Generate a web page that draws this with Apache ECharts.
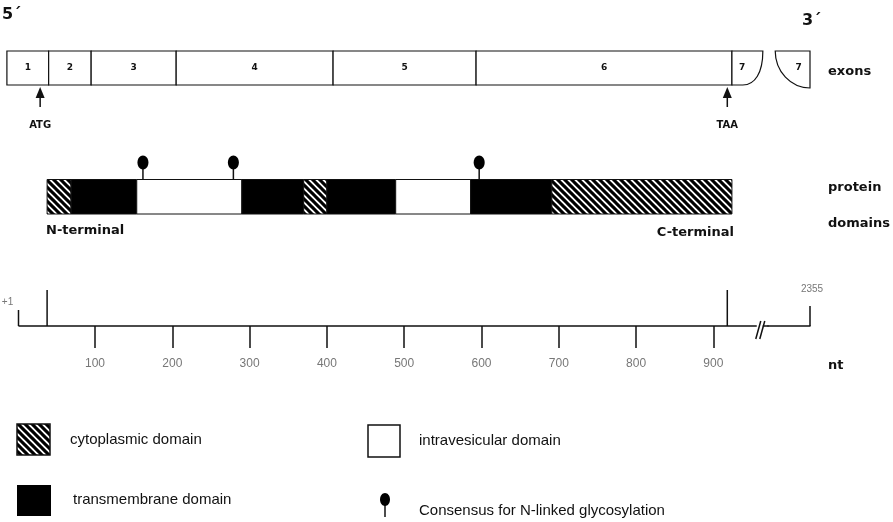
<!DOCTYPE html>
<html><head><meta charset="utf-8">
<script src="https://cdn.jsdelivr.net/npm/echarts@6/dist/echarts.min.js"></script>
<style>html,body{margin:0;padding:0;background:#fff}#c{width:893px;height:522px}</style>
</head><body><div id="c"></div>
<script>
// ---------- data (nucleotide positions) ----------
const exonNames  = ['1', '2', '3', '4', '5', '6', '7'];
const exonStarts = [-14, 40, 95, 205, 408, 593, 924];
const exonEnds   = [40, 95, 205, 408, 593, 924, 964];
const exon7Tail  = [2310, 2355];

const domainTypes  = ['cyto', 'tm', 'intra', 'tm', 'cyto', 'tm', 'intra', 'tm', 'cyto'];
const domainStarts = [38, 69, 154, 290, 370, 400, 489, 586, 691];
const domainEnds   = [69, 154, 290, 370, 400, 489, 586, 691, 924];

const glycoSites = [162, 279, 597];

const codonNames  = ['ATG', 'TAA'];
const codonArrows = [29, 918];

const rulerTicks      = [100, 200, 300, 400, 500, 600, 700, 800, 900];
const rulerTickLabels = ['100', '200', '300', '400', '500', '600', '700', '800', '900'];
const seqStart = 1, seqEnd = 2355;
const cdsStart = 38, cdsEnd = 918;
const rulerMarks = [seqStart, cdsStart, cdsEnd, seqEnd];
const rulerMarkLabels = ['+1', '', '', '2355'];
const breakMark = 960;
const axisBreakRange = [970, 2300];

// ---------- layout / style ----------
const L = {
  exonTop: 51, exonBot: 85, exonLabelY: 68,
  arrowTip: 87, arrowHead: 98, arrowBase: 107, codonLabelY: 125,
  barTop: 179.5, barBot: 214, pinCy: 162.5, pinRx: 5.5, pinRy: 7,
  rulerY: 326, rulerMarkTops: [310, 290, 290, 306]
};
const INK = '#111';
const boldFont = 'bold 13px "DejaVu Sans"';
const legendFont = '15px "Liberation Sans"';

function hatchCanvas() {
  const s = 7, c = document.createElement('canvas');
  c.width = s; c.height = s;
  const g = c.getContext('2d');
  g.fillStyle = '#fff'; g.fillRect(0, 0, s, s);
  g.strokeStyle = '#000'; g.lineWidth = 3.1;
  for (const k of [-s, 0, s]) {
    g.beginPath(); g.moveTo(k - 1, -1); g.lineTo(k + s + 1, s + 1); g.stroke();
  }
  return c;
}
const HATCH = { image: hatchCanvas(), repeat: 'repeat' };
function domainFill(t) { return t === 'cyto' ? HATCH : (t === 'tm' ? '#000' : '#fff'); }

function px(api, v) { return api.coord([v, 0])[0]; }
function txt(text, x, y, font, fill, align, valign) {
  return { type: 'text', style: { text, x, y, font, fill: fill || INK,
    align: align || 'center', verticalAlign: valign || 'middle',
    textAlign: align || 'center', textVerticalAlign: valign || 'middle' } };
}
function label(text, x, y, font, align) {
  return { type: 'text', style: { text, x, y, font, fill: INK,
    align: align || 'left', textAlign: align || 'left',
    verticalAlign: 'middle', textVerticalAlign: 'middle' } };
}

const chart = echarts.init(document.getElementById('c'), null, { renderer: 'canvas' });

const option = {
  animation: false,
  backgroundColor: '#fff',
  grid: { left: 18.5, right: 83, top: 0, bottom: 196 },
  xAxis: {
    type: 'value', min: seqStart, max: seqEnd,
    breaks: [{ start: axisBreakRange[0], end: axisBreakRange[1], gap: 0 }],
    breakArea: { show: false },
    splitLine: { show: false },
    axisLine: { show: true, onZero: false, lineStyle: { color: INK, width: 1.5 } },
    axisTick: { show: true, customValues: rulerTicks, length: 22, lineStyle: { color: INK, width: 1.5 } },
    axisLabel: {
      show: true, customValues: rulerTicks, margin: 32, color: '#777', fontSize: 12,
      fontFamily: 'Liberation Sans',
      formatter: v => rulerTickLabels[rulerTicks.indexOf(v)] || ''
    }
  },
  yAxis: { type: 'value', min: 0, max: 326, inverse: true, show: false },
  series: [
    { // exons
      type: 'custom', silent: true,
      data: exonNames.map((n, i) => [exonStarts[i], exonEnds[i], i]),
      renderItem(params, api) {
        const i = params.dataIndex;
        const x0 = px(api, api.value(0)), x1 = px(api, api.value(1));
        const t = L.exonTop, b = L.exonBot;
        const style = { fill: '#fff', stroke: INK, lineWidth: 1.2 };
        let el, lx = (x0 + x1) / 2;
        if (i === exonNames.length - 1) {
          const d = `M${x0},${t} L${x1},${t} C${x1},${t + 22} ${x1 - 8},${b} ${x1 - 20},${b} L${x0},${b} Z`;
          el = { type: 'path', shape: { pathData: d }, style };
          lx = x0 + (x1 - x0) * 0.33;
        } else {
          el = { type: 'rect', shape: { x: x0, y: t, width: x1 - x0, height: b - t }, style };
        }
        return { type: 'group', children: [el, txt(exonNames[i], lx, L.exonLabelY, 'bold 9px "DejaVu Sans"')] };
      }
    },
    { // 3' part of exon 7 (after the break)
      type: 'custom', silent: true,
      data: [[exon7Tail[0], exon7Tail[1]]],
      renderItem(params, api) {
        const x0 = px(api, api.value(0)), x1 = px(api, api.value(1));
        const t = L.exonTop, b = L.exonBot + 3, rx = x1 - x0, ry = b - t;
        const d = `M${x1},${t} L${x0},${t} C${x0},${t + 0.552 * ry} ${x1 - 0.552 * rx},${b} ${x1},${b} Z`;
        return { type: 'group', children: [
          { type: 'path', shape: { pathData: d }, style: { fill: '#fff', stroke: INK, lineWidth: 1.2 } },
          txt(exonNames[exonNames.length - 1], x0 + rx * 0.67, L.exonLabelY, 'bold 9px "DejaVu Sans"')
        ] };
      }
    },
    { // start / stop codon arrows
      type: 'custom', silent: true,
      data: codonArrows.map((v, i) => [v, i]),
      renderItem(params, api) {
        const x = px(api, api.value(0));
        return { type: 'group', children: [
          { type: 'line', shape: { x1: x, y1: L.arrowHead - 2, x2: x, y2: L.arrowBase }, style: { stroke: INK, lineWidth: 1.5 } },
          { type: 'polygon', shape: { points: [[x, L.arrowTip], [x - 4.5, L.arrowHead], [x + 4.5, L.arrowHead]] }, style: { fill: INK } },
          txt(codonNames[params.dataIndex], x, L.codonLabelY, 'bold 10px "DejaVu Sans"')
        ] };
      }
    },
    { // protein domains
      type: 'custom', silent: true,
      data: domainTypes.map((t, i) => [domainStarts[i], domainEnds[i], i]),
      renderItem(params, api) {
        const i = params.dataIndex;
        const x0 = px(api, api.value(0)), x1 = px(api, api.value(1));
        return { type: 'rect', shape: { x: x0, y: L.barTop, width: x1 - x0, height: L.barBot - L.barTop },
          style: { fill: domainFill(domainTypes[i]), stroke: INK, lineWidth: 1 } };
      }
    },
    { // glycosylation pins
      type: 'custom', silent: true,
      data: glycoSites.map(v => [v]),
      renderItem(params, api) {
        const x = px(api, api.value(0));
        return { type: 'group', children: [
          { type: 'line', shape: { x1: x, y1: L.pinCy + L.pinRy - 1, x2: x, y2: L.barTop }, style: { stroke: INK, lineWidth: 1.5 } },
          { type: 'ellipse', shape: { cx: x, cy: L.pinCy, rx: L.pinRx, ry: L.pinRy }, style: { fill: '#000' } }
        ] };
      }
    },
    { // ruler marks (sequence ends and coding region)
      type: 'custom', silent: true,
      data: rulerMarks.map((v, i) => [v, i]),
      renderItem(params, api) {
        const i = params.dataIndex;
        const x = px(api, api.value(0));
        const ch = [{ type: 'line', shape: { x1: x, y1: L.rulerMarkTops[i], x2: x, y2: L.rulerY }, style: { stroke: INK, lineWidth: 1.5 } }];
        if (rulerMarkLabels[i]) {
          const first = i === 0;
          ch.push(txt(rulerMarkLabels[i], first ? x - 11 : x + 2, first ? 302 : 289, '10px "Liberation Sans"', '#777'));
        }
        return { type: 'group', children: ch };
      }
    },
    { // axis break sign
      type: 'custom', silent: true,
      data: [[breakMark]],
      renderItem(params, api) {
        const x = px(api, api.value(0)), y = L.rulerY;
        return { type: 'group', children: [
          { type: 'rect', shape: { x: x - 3, y: y - 2, width: 6, height: 4 }, style: { fill: '#fff' } },
          { type: 'line', shape: { x1: x - 4, y1: y + 13, x2: x + 1, y2: y - 5 }, style: { stroke: INK, lineWidth: 1.5 } },
          { type: 'line', shape: { x1: x, y1: y + 13, x2: x + 5, y2: y - 5 }, style: { stroke: INK, lineWidth: 1.5 } }
        ] };
      }
    }
  ],
  graphic: [
    // top labels
    label('5\u00B4', 2, 15, 'bold 16px "DejaVu Sans"'),
    label('3\u00B4', 802, 21, 'bold 16px "DejaVu Sans"'),
    label('exons', 828, 72, boldFont),
    label('protein', 828, 188, boldFont),
    label('domains', 828, 224, boldFont),
    label('N-terminal', 46, 231, boldFont),
    label('C-terminal', 734, 233, boldFont, 'right'),
    label('nt', 828, 366, boldFont),
    // legend
    { type: 'rect', shape: { x: 17, y: 424, width: 33, height: 31 }, style: { fill: HATCH, stroke: INK, lineWidth: 1.5 } },
    label('cytoplasmic domain', 70, 440, legendFont),
    { type: 'rect', shape: { x: 17, y: 485, width: 34, height: 31 }, style: { fill: '#000' } },
    label('transmembrane domain', 73, 500, legendFont),
    { type: 'rect', shape: { x: 368, y: 425, width: 32, height: 32 }, style: { fill: '#fff', stroke: INK, lineWidth: 1.5 } },
    label('intravesicular domain', 419, 441, legendFont),
    { type: 'line', shape: { x1: 385, y1: 504, x2: 385, y2: 517 }, style: { stroke: INK, lineWidth: 1.5 } },
    { type: 'ellipse', shape: { cx: 385, cy: 499.5, rx: 5, ry: 6.5 }, style: { fill: '#000' } },
    label('Consensus for N-linked glycosylation', 419, 511, legendFont)
  ]
};
chart.setOption(option);
</script>
</body></html>
